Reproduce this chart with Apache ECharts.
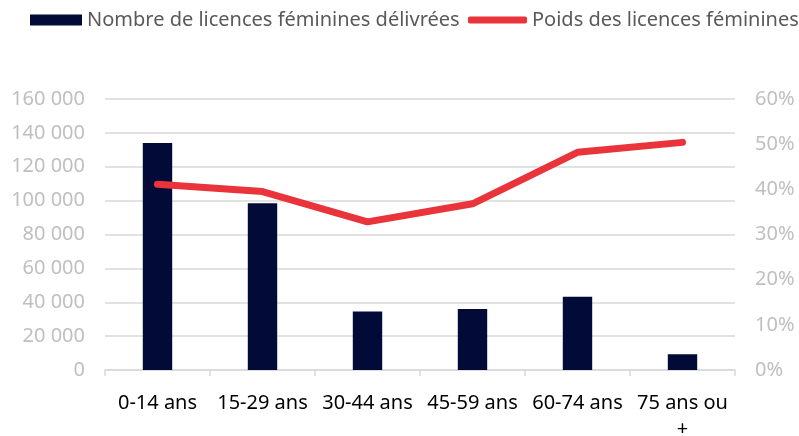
<!DOCTYPE html>
<html><head><meta charset="utf-8">
<script src="https://cdn.jsdelivr.net/npm/echarts@6/dist/echarts.min.js"></script>
<style>html,body{margin:0;padding:0;background:#fff}#c{width:799px;height:436px}</style>
</head><body><div id="c"></div>
<script>
const categories = ["0-14 ans", "15-29 ans", "30-44 ans", "45-59 ans", "60-74 ans", "75 ans ou +"];
const licences = [134000, 98500, 34500, 36000, 43300, 9300];
const poids = [41.1, 39.5, 32.8, 36.8, 48.2, 50.4];
const seriesNames = ["Nombre de licences féminines délivrées", "Poids des licences féminines"];

const FONT = "Noto Sans";
const FS = 20;
const chart = echarts.init(document.getElementById('c'), null, {renderer: 'canvas'});
const legendText = {fontFamily: FONT, fontSize: FS, color: '#595959'};
chart.setOption({
  animation: false,
  textStyle: {fontFamily: FONT},
  legend: [
    {
      left: 30, top: 10, itemWidth: 52, itemHeight: 11, itemGap: 6, padding: 0,
      textStyle: legendText,
      data: [{name: seriesNames[0], icon: 'rect'}]
    },
    {
      left: 468, top: 10, itemWidth: 59, itemHeight: 7, padding: 0,
      textStyle: legendText,
      data: [{name: seriesNames[1], icon: 'roundRect'}]
    }
  ],
  grid: {left: 105, right: 64, top: 99, bottom: 66, containLabel: false, outerBoundsMode: 'none'},
  xAxis: {
    type: 'category', data: categories,
    axisLine: {lineStyle: {color: '#d9d9d9', width: 1.5}},
    axisTick: {show: true, length: 6, lineStyle: {color: '#d9d9d9', width: 1.5}},
    axisLabel: {
      color: '#000', fontSize: FS, fontFamily: FONT, margin: 20, lineHeight: 26,
      interval: 0,
      formatter: v => v.replace(' ou +', ' ou\n+')
    }
  },
  yAxis: [
    {
      type: 'value', min: 0, max: 160000, interval: 20000,
      axisLine: {show: false}, axisTick: {show: false},
      splitLine: {lineStyle: {color: '#d9d9d9', width: 1.5}},
      axisLabel: {color: '#bfbfbf', fontSize: FS, fontFamily: FONT, margin: 20,
        formatter: v => String(v).replace(/\B(?=(\d{3})+(?!\d))/g, ' ')}
    },
    {
      type: 'value', min: 0, max: 60, interval: 10,
      axisLine: {show: false}, axisTick: {show: false},
      splitLine: {show: false},
      axisLabel: {color: '#bfbfbf', fontSize: FS, fontFamily: FONT, margin: 20,
        formatter: v => v + '%'}
    }
  ],
  series: [
    {
      name: seriesNames[0], type: 'bar', data: licences, yAxisIndex: 0,
      barWidth: '28%',
      itemStyle: {color: '#020b38'}
    },
    {
      name: seriesNames[1], type: 'line', data: poids, yAxisIndex: 1,
      symbol: 'none',
      lineStyle: {color: '#e8343a', width: 7, cap: 'round', join: 'round'},
      itemStyle: {color: '#e8343a'}
    }
  ]
});
</script></body></html>
